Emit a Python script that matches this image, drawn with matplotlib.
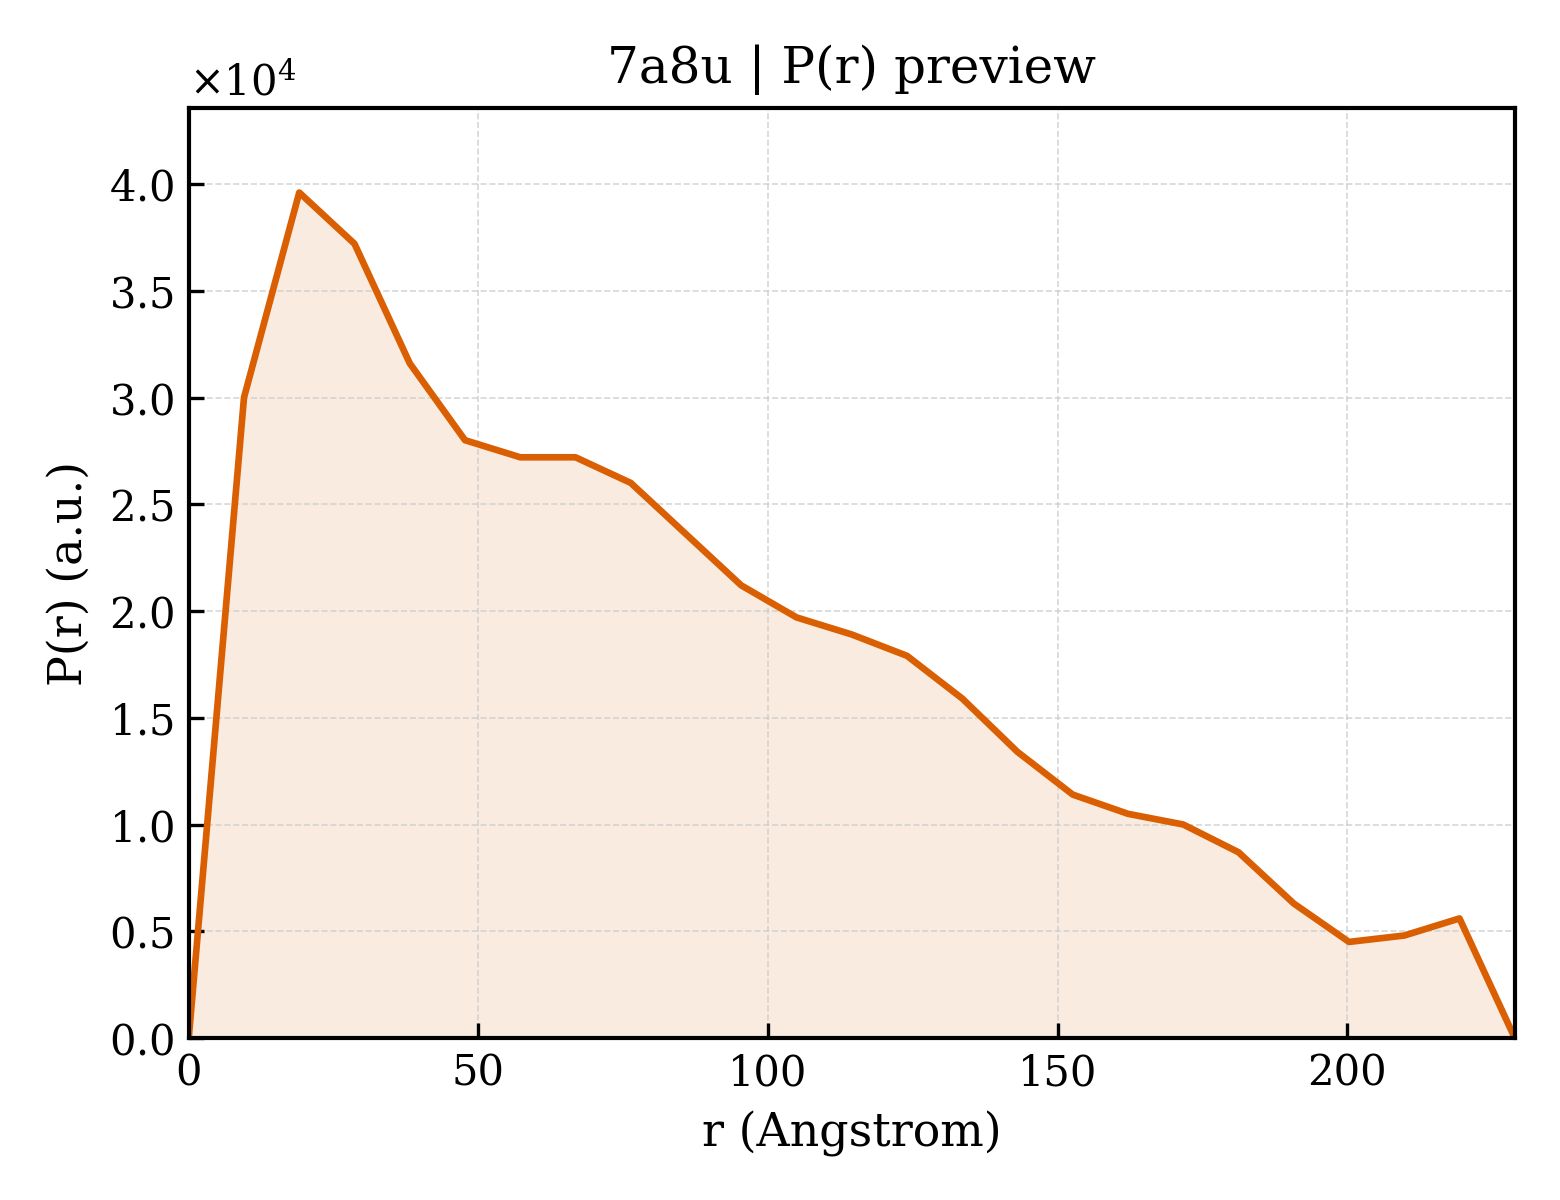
import numpy as np
import matplotlib
matplotlib.use("Agg")
import matplotlib.pyplot as plt

# P(r) preview for 7a8u
r_max = 228.9
n_bins = 24
r = np.linspace(0, r_max, n_bins + 1)
pr = [0.0, 3.00, 3.96, 3.72, 3.16, 2.80, 2.72, 2.72, 2.60, 2.36, 2.12,
      1.97, 1.89, 1.79, 1.59, 1.34, 1.14, 1.05, 1.00, 0.87, 0.63,
      0.45, 0.48, 0.56, 0.0]
pr = np.array(pr) * 1e4

plt.rcParams['font.family'] = 'DejaVu Serif'
plt.rcParams['mathtext.fontset'] = 'dejavuserif'

fig, ax = plt.subplots(figsize=(5.2, 4), dpi=300)
color = '#d95f02'
ax.fill_between(r, pr, color=color, alpha=0.12, linewidth=0)
ax.plot(r, pr, color=color, lw=1.6)

ax.set_xlim(0, r_max)
ax.set_ylim(0, pr.max() * 1.1)
ax.set_xlabel('r (Angstrom)', fontsize=11)
ax.set_ylabel('P(r) (a.u.)', fontsize=11)
ax.set_title('7a8u | P(r) preview', fontsize=12)
ax.ticklabel_format(axis='y', style='sci', scilimits=(0, 0), useMathText=True)
ax.tick_params(direction='in', labelsize=10)
ax.grid(True, linestyle='--', linewidth=0.4, color='#cccccc', alpha=0.8)
for s in ax.spines.values():
    s.set_linewidth(1.0)

fig.subplots_adjust(left=0.121, right=0.971, bottom=0.135, top=0.91)
fig.savefig('out.png', dpi=300)
